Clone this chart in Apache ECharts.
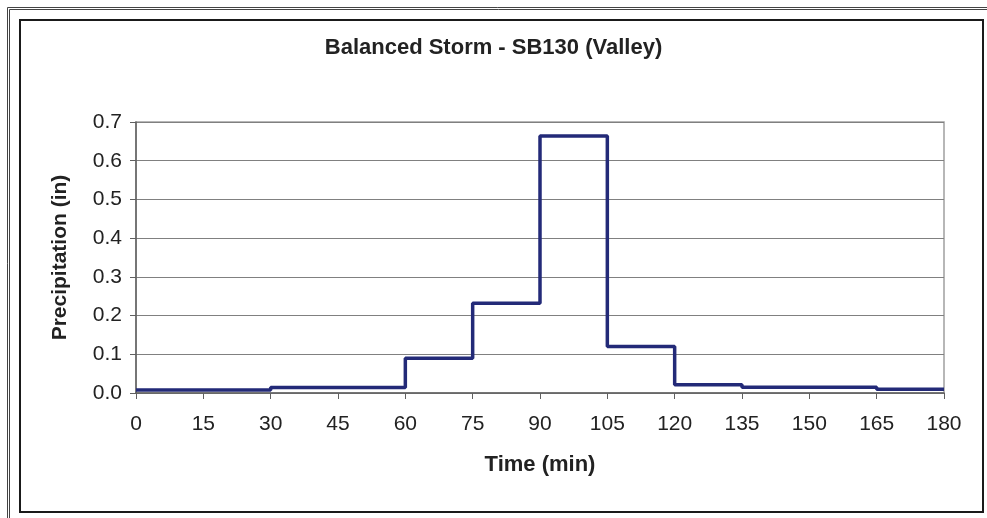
<!DOCTYPE html>
<html>
<head>
<meta charset="utf-8">
<script src="https://cdn.jsdelivr.net/npm/echarts@6/dist/echarts.min.js"></script>
<style>
  html, body { margin: 0; padding: 0; background: #fff; }
  #chart { width: 987px; height: 518px; }
</style>
</head>
<body>
<div id="chart"></div>
<script>
// step starts (min) and the depth for each step (in)
const times = [0, 30, 60, 75, 90, 105, 120, 135, 165, 180];
const precip = [0.008, 0.014, 0.090, 0.232, 0.664, 0.120, 0.021, 0.015, 0.0096, 0.0096];
const xTicks = [0, 15, 30, 45, 60, 75, 90, 105, 120, 135, 150, 165, 180];
const yTicks = [0.0, 0.1, 0.2, 0.3, 0.4, 0.5, 0.6, 0.7];

const chart = echarts.init(document.getElementById('chart'));
const font = 'Liberation Sans, Arial, sans-serif';

const option = {
  backgroundColor: '#fff',
  animation: false,
  title: {
    text: 'Balanced Storm - SB130 (Valley)',
    left: 'center',
    top: 37,
    padding: 0,
    textStyle: { fontFamily: font, fontSize: 22, fontWeight: 'bold', color: '#222' }
  },
  grid: {
    left: 136,
    right: 43,
    top: 122,
    bottom: 125,
    show: true,
    borderColor: '#a0a0a0',
    borderWidth: 1.5
  },
  xAxis: {
    type: 'value',
    min: 0,
    max: 180,
    interval: 15,
    name: 'Time (min)',
    nameLocation: 'middle',
    nameGap: 61,
    nameTextStyle: { fontFamily: font, fontSize: 22, fontWeight: 'bold', color: '#222' },
    axisLine: { show: true, lineStyle: { color: '#606060', width: 1.5 } },
    axisTick: { show: true, length: 6, lineStyle: { color: '#606060' } },
    splitLine: { show: false },
    axisLabel: {
      margin: 21,
      fontFamily: font,
      fontSize: 21,
      color: '#222',
      formatter: v => xTicks.includes(v) ? String(v) : ''
    }
  },
  yAxis: {
    type: 'value',
    min: 0,
    max: 0.7,
    interval: 0.1,
    name: 'Precipitation (in)',
    nameLocation: 'middle',
    nameGap: 65,
    nameTextStyle: { fontFamily: font, fontSize: 21, fontWeight: 'bold', color: '#222' },
    axisLine: { show: true, lineStyle: { color: '#606060', width: 1.5 } },
    axisTick: { show: true, length: 6, lineStyle: { color: '#606060' } },
    splitLine: { show: true, lineStyle: { color: '#808080', width: 1 } },
    axisLabel: {
      margin: 14,
      fontFamily: font,
      fontSize: 21,
      color: '#222',
      formatter: v => yTicks[Math.round(v * 10)].toFixed(1)
    }
  },
  series: [{
    type: 'line',
    step: 'end',
    showSymbol: false,
    lineStyle: { color: '#232a78', width: 3.5 },
    data: times.map((t, i) => [t, precip[i]])
  }],
  graphic: [
    { type: 'rect', silent: true, shape: { x: 7.5, y: 7.5, width: 1200, height: 1200 },
      style: { fill: 'none', stroke: '#444', lineWidth: 1 } },
    { type: 'rect', silent: true, shape: { x: 9.5, y: 9.5, width: 1200, height: 1200 },
      style: { fill: 'none', stroke: '#444', lineWidth: 1 } },
    { type: 'rect', silent: true, shape: { x: 20, y: 20, width: 963, height: 492 },
      style: { fill: 'none', stroke: '#1a1a1a', lineWidth: 2 } }
  ]
};

chart.setOption(option);
</script>
</body>
</html>
